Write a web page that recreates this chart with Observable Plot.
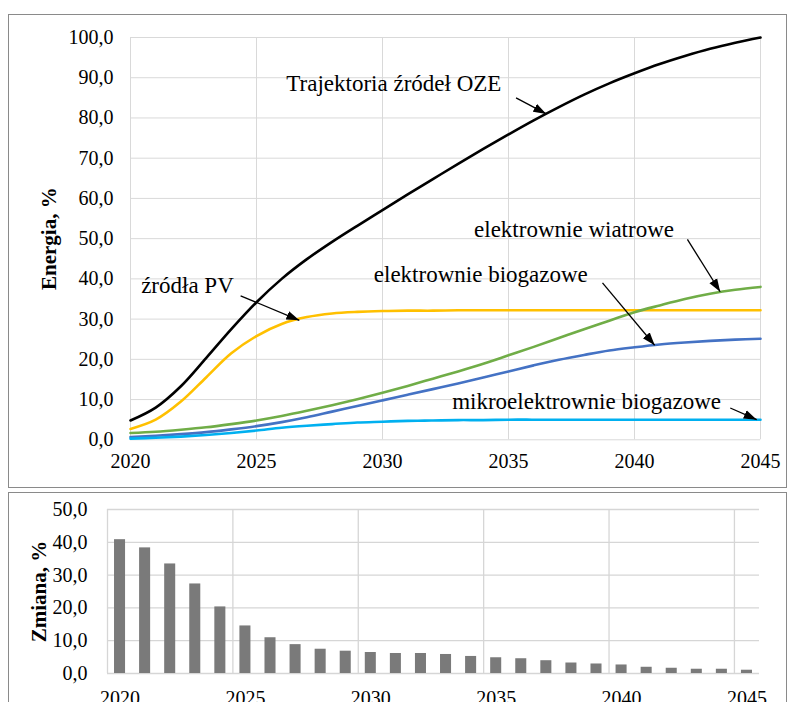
<!DOCTYPE html>
<html>
<head>
<meta charset="utf-8">
<script src="https://cdn.jsdelivr.net/npm/d3@7"></script>
<script src="https://cdn.jsdelivr.net/npm/@observablehq/plot@0.6"></script>
<style>
  html, body { margin: 0; padding: 0; background: #fff; }
  body { width: 790px; height: 702px; position: relative; overflow: hidden; font-family: "Liberation Serif", "Times New Roman", serif; }
  .frame { position: absolute; border: 1px solid #8a8a8a; box-sizing: border-box; }
  .chart { position: absolute; left: 0; }
  .chart svg, .chart svg text { font-family: "Liberation Serif", "Times New Roman", serif !important; }
</style>
</head>
<body>
<div class="frame" style="left:8px;top:14px;width:779px;height:474px"></div>
<div class="frame" style="left:8px;top:492px;width:779px;height:222px"></div>
<div id="topChart" class="chart" style="top:0"></div>
<div id="bottomChart" class="chart" style="top:490px"></div>
<script>
// ---------- data ----------
const years = [2020, 2021, 2022, 2023, 2024, 2025, 2026, 2027, 2028, 2029, 2030, 2031, 2032,
               2033, 2034, 2035, 2036, 2037, 2038, 2039, 2040, 2041, 2042, 2043, 2044, 2045];

const seriesNames = ["Trajektoria źródeł OZE", "źródła PV", "elektrownie wiatrowe", "elektrownie biogazowe", "mikroelektrownie biogazowe"];
const seriesColors = ["#000000", "#FFC000", "#70AD47", "#4472C4", "#00B0F0"];

const oze    = [4.8, 8.0, 13.3, 20.3, 27.5, 34.2, 40.0, 44.9, 49.2, 53.2, 57.1, 61.0, 64.8, 68.6, 72.3, 75.9, 79.4, 82.7, 85.8, 88.6, 91.1, 93.4, 95.4, 97.2, 98.7, 100.0];
const pv     = [2.7, 5.0, 9.5, 15.5, 21.5, 25.8, 28.8, 30.5, 31.4, 31.8, 32.0, 32.1, 32.1, 32.2, 32.2, 32.2, 32.2, 32.2, 32.2, 32.2, 32.2, 32.2, 32.2, 32.2, 32.2, 32.2];
const wind   = [1.7, 2.0, 2.5, 3.1, 3.9, 4.8, 5.9, 7.2, 8.6, 10.1, 11.7, 13.4, 15.2, 17.0, 18.9, 21.0, 23.1, 25.3, 27.5, 29.6, 31.7, 33.4, 35.0, 36.3, 37.3, 38.0];
const biogas = [0.7, 1.0, 1.4, 1.9, 2.6, 3.4, 4.4, 5.6, 7.0, 8.4, 9.8, 11.2, 12.6, 14.0, 15.5, 17.0, 18.5, 19.9, 21.1, 22.2, 23.0, 23.7, 24.2, 24.6, 24.9, 25.1];
const micro  = [0.3, 0.5, 0.8, 1.2, 1.7, 2.3, 3.0, 3.5, 3.9, 4.3, 4.5, 4.7, 4.8, 4.9, 4.9, 5.0, 5.0, 5.0, 5.0, 5.0, 5.0, 5.0, 5.0, 5.0, 5.0, 5.0];
const seriesValues = [oze, pv, wind, biogas, micro];

const change = [40.8, 38.3, 33.4, 27.3, 20.3, 14.5, 10.9, 8.8, 7.4, 6.8, 6.4, 6.1, 6.1, 5.8, 5.2, 4.8, 4.5, 3.9, 3.2, 2.9, 2.6, 1.9, 1.6, 1.3, 1.3, 1.0];

const xTickYears = [2020, 2025, 2030, 2035, 2040, 2045];
const energyTicks = [0, 10, 20, 30, 40, 50, 60, 70, 80, 90, 100];
const changeTicks = [0, 10, 20, 30, 40, 50];

// annotation labels (in data units: year, %)
const labelText = ["Trajektoria źródeł OZE", "źródła PV", "elektrownie wiatrowe", "elektrownie biogazowe", "mikroelektrownie biogazowe"];
const labelYear = [2030.45, 2022.26, 2037.6, 2033.9, 2038.1];
const labelValue = [88.6, 38.2, 52.3, 41.0, 9.4];
// arrows: from (year1, value1) to (year2, value2)
const arrowYear1 = [2035.3, 2024.37, 2042.1, 2038.73, 2043.8];
const arrowValue1 = [85.0, 35.8, 49.8, 39.0, 7.9];
const arrowYear2 = [2036.5, 2026.7, 2043.4, 2040.8, 2044.85];
const arrowValue2 = [81.0, 29.7, 36.8, 23.5, 5.0];

const fmt = d => d.toFixed(1).replace(".", ",");
const fontCss = "font-family: 'Liberation Serif', 'Times New Roman', serif; font-size: 20px; color: #000; background: transparent; overflow: visible;";

// ---------- build tables ----------
const lineRows = [];
seriesNames.forEach((name, s) => years.forEach((yr, i) => lineRows.push({series: name, year: yr, value: seriesValues[s][i]})));
const labels = labelText.map((t, i) => ({text: t, x: labelYear[i], y: labelValue[i]}));
const arrows = arrowYear1.map((x1, i) => ({x1, y1: arrowValue1[i], x2: arrowYear2[i], y2: arrowValue2[i]}));
const bars = years.map((yr, i) => ({year: yr, value: change[i]}));
const barGridX = years.filter((yr, i) => i % 5 === 0).map(yr => yr - 0.5);

// ---------- top chart ----------
const energyPlot = Plot.plot({
  width: 790, height: 490,
  marginTop: 37, marginBottom: 50.7, marginLeft: 130, marginRight: 30,
  style: fontCss,
  x: {domain: [2020, 2045]},
  y: {domain: [0, 100]},
  color: {domain: seriesNames, range: seriesColors},
  marks: [
    Plot.gridY(energyTicks, {stroke: "#d9d9d9", strokeOpacity: 1}),
    Plot.gridX(xTickYears, {stroke: "#d9d9d9", strokeOpacity: 1}),
    Plot.axisY({ticks: energyTicks, tickFormat: fmt, tickSize: 0, tickPadding: 17, label: null, fontSize: 20}),
    Plot.axisX({ticks: xTickYears, tickFormat: d => String(d), tickSize: 0, tickPadding: 14, label: null, fontSize: 20}),
    Plot.line(lineRows, {x: "year", y: "value", stroke: "series", z: "series", strokeWidth: 2.6, curve: "catmull-rom"}),
    Plot.text(labels, {x: "x", y: "y", text: "text", fontSize: 23, textAnchor: "middle", lineAnchor: "middle", fill: "#000"}),
    Plot.link(arrows, {x1: "x1", y1: "y1", x2: "x2", y2: "y2", stroke: "#000", strokeWidth: 1.3, markerEnd: "arrow"}),
    Plot.text(["Energia, %"], {frameAnchor: "left", text: d => d, rotate: -90, dx: -81, fontSize: 21, fontWeight: "bold", textAnchor: "middle", lineAnchor: "middle"})
  ]
});

// ---------- bottom chart ----------
const changePlot = Plot.plot({
  width: 790, height: 212,
  marginTop: 19, marginBottom: 29, marginLeft: 107, marginRight: 31,
  style: fontCss,
  x: {domain: [years[0] - 0.5, years[years.length - 1] + 0.5]},
  y: {domain: [0, 50]},
  marks: [
    Plot.gridY(changeTicks, {stroke: "#d6d6d6", strokeOpacity: 1, strokeWidth: 1.3}),
    Plot.gridX(barGridX, {stroke: "#d6d6d6", strokeOpacity: 1, strokeWidth: 1.3}),
    Plot.rectY(bars, {x1: d => d.year - 0.22, x2: d => d.year + 0.22, y: "value", fill: "#7a7a7a"}),
    Plot.axisY({ticks: changeTicks, tickFormat: fmt, tickSize: 0, tickPadding: 20, label: null, fontSize: 20}),
    Plot.axisX({ticks: xTickYears, tickFormat: d => String(d), tickSize: 0, tickPadding: 17, label: null, fontSize: 20}),
    Plot.text(["Zmiana, %"], {frameAnchor: "left", text: d => d, rotate: -90, dx: -68, fontSize: 21, fontWeight: "bold", textAnchor: "middle", lineAnchor: "middle"})
  ]
});

document.getElementById("topChart").appendChild(energyPlot);
document.getElementById("bottomChart").appendChild(changePlot);

// filled triangular arrowheads
energyPlot.querySelectorAll("marker").forEach(m => {
  m.setAttribute("viewBox", "-13 -5 13 10");
  m.setAttribute("markerUnits", "userSpaceOnUse");
  m.setAttribute("markerWidth", "13");
  m.setAttribute("markerHeight", "10");
  m.setAttribute("fill", "#000");
  m.setAttribute("stroke", "none");
  const p = m.querySelector("path");
  if (p) p.setAttribute("d", "M-13,-4.5L0,0L-13,4.5Z");
});
</script>
</body>
</html>
